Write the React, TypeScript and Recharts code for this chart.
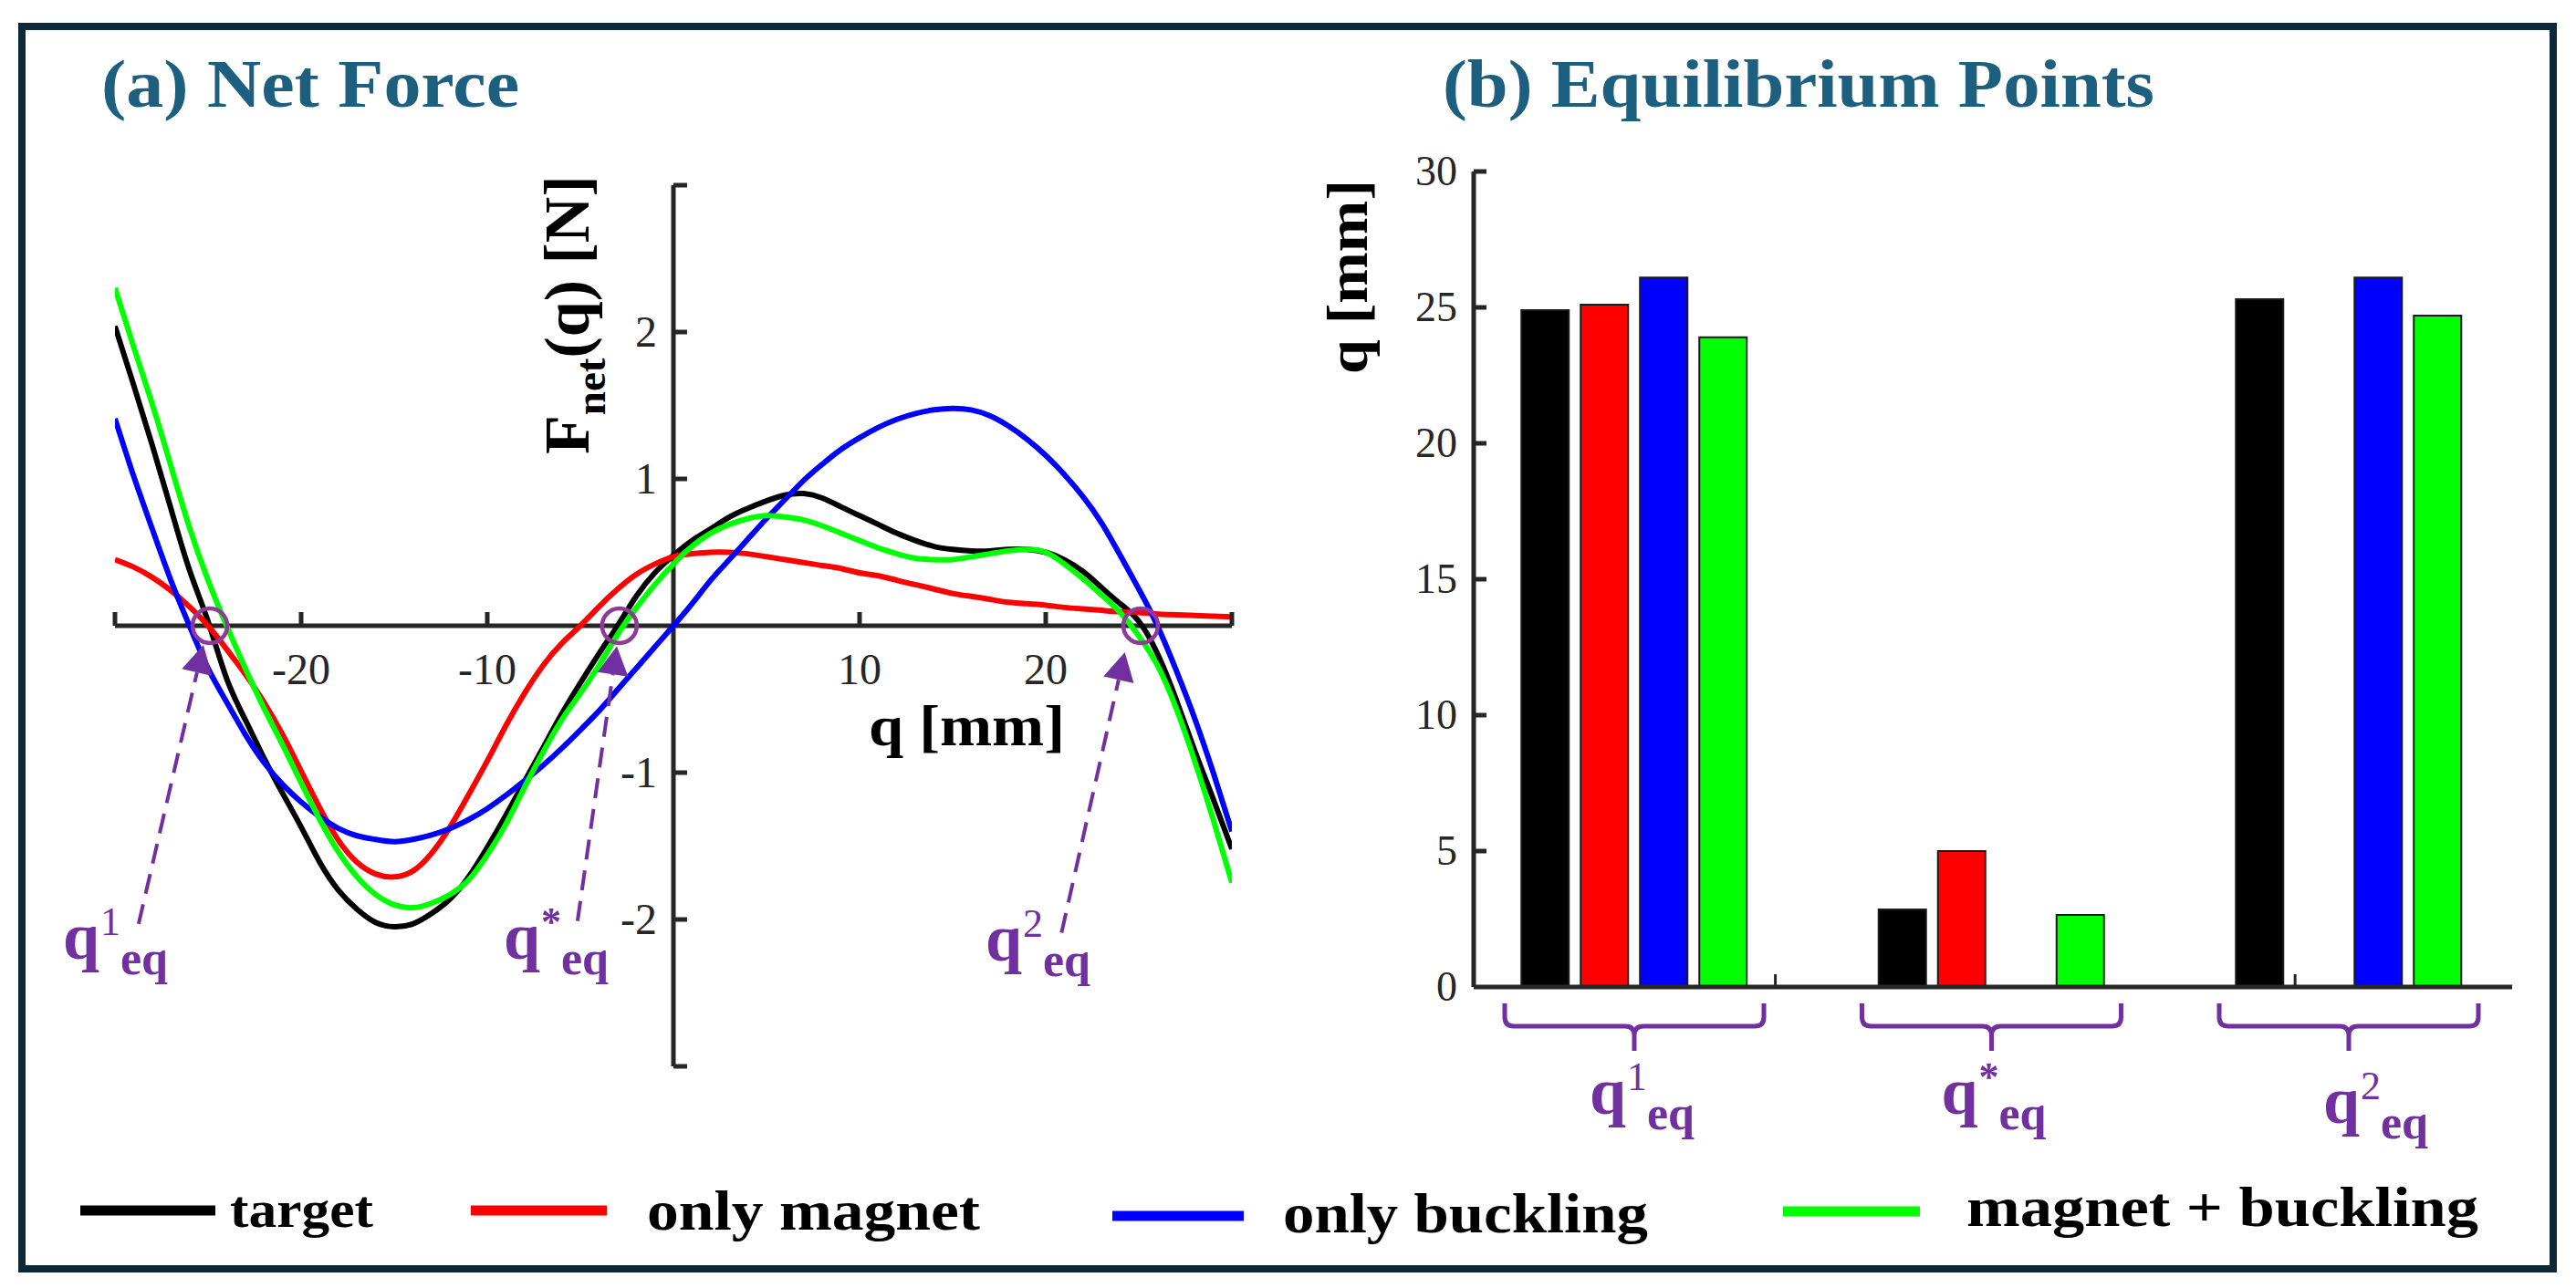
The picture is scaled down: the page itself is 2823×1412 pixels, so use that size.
import React from "react";
import {
  LineChart,
  Line,
  XAxis,
  YAxis,
  ReferenceLine,
  ReferenceDot,
  BarChart,
  Bar,
} from "recharts";

const FONT = "'Liberation Serif', 'Times New Roman', Times, serif";
const AXIS = "#262626";
const PURPLE = "#7030a0";
const CIRCLE = "#8f3a98";
const TITLE = "#1d5f7f";
const FRAME = "#0d2838";

// ---------------- (a) Net Force data ----------------
const qGrid = [
  -30, -29, -28, -27, -26, -25, -24, -23, -22, -21, -20, -19, -18, -17, -16, -15,
  -14, -13, -12, -11, -10, -9, -8, -7, -6, -5, -4, -3, -2, -1, 0, 1, 2, 3, 4, 5,
  6, 7, 8, 9, 10, 11, 12, 13, 14, 15, 16, 17, 18, 19, 20, 21, 22, 23, 24, 25, 26,
  27, 28, 29, 30,
];

const targetForce = [
  2.04, 1.64, 1.23, 0.8, 0.38, 0.03, -0.36, -0.64, -0.9, -1.14, -1.37, -1.61,
  -1.8, -1.93, -2.02, -2.05, -2.03, -1.96, -1.86, -1.71, -1.51, -1.29, -1.06,
  -0.83, -0.6, -0.39, -0.19, 0.0, 0.2, 0.36, 0.48, 0.58, 0.66, 0.74, 0.8, 0.85,
  0.89, 0.9, 0.87, 0.81, 0.75, 0.69, 0.63, 0.58, 0.54, 0.52, 0.51, 0.51, 0.52,
  0.52, 0.5, 0.45, 0.37, 0.26, 0.15, 0.03, -0.19, -0.5, -0.85, -1.18, -1.52,
];

const magnetForce = [
  0.45, 0.4, 0.33, 0.24, 0.13, 0.0, -0.16, -0.33, -0.52, -0.74, -0.99, -1.24,
  -1.46, -1.61, -1.69, -1.71, -1.67, -1.55, -1.37, -1.15, -0.92, -0.68, -0.46,
  -0.27, -0.12, 0.0, 0.13, 0.25, 0.35, 0.42, 0.47, 0.49, 0.5, 0.5, 0.49, 0.47,
  0.45, 0.43, 0.41, 0.39, 0.36, 0.34, 0.31, 0.28, 0.25, 0.22, 0.2, 0.18, 0.16,
  0.15, 0.14, 0.125, 0.115, 0.105, 0.095, 0.09, 0.08, 0.075, 0.07, 0.065, 0.06,
];

const bucklingForce = [
  1.41, 1.02, 0.66, 0.31, 0.0, -0.29, -0.52, -0.74, -0.93, -1.08, -1.2, -1.3,
  -1.38, -1.43, -1.455, -1.47, -1.455, -1.425, -1.38, -1.32, -1.245, -1.155,
  -1.055, -0.95, -0.835, -0.71, -0.58, -0.435, -0.29, -0.145, 0.0, 0.15, 0.31,
  0.45, 0.59, 0.73, 0.86, 0.99, 1.1, 1.2, 1.28, 1.35, 1.405, 1.445, 1.47, 1.48,
  1.47, 1.43, 1.36, 1.27, 1.16, 1.03, 0.88, 0.7, 0.48, 0.25, 0.0, -0.3, -0.63,
  -1.0, -1.4,
];

const bothForce = [
  2.3, 1.9, 1.51, 1.09, 0.67, 0.31, 0.0, -0.29, -0.56, -0.81, -1.07, -1.32,
  -1.54, -1.71, -1.83, -1.9, -1.92, -1.89, -1.83, -1.73, -1.56, -1.35, -1.1,
  -0.86, -0.64, -0.46, -0.27, -0.06, 0.12, 0.28, 0.42, 0.54, 0.63, 0.69, 0.73,
  0.75, 0.74, 0.72, 0.68, 0.63, 0.58, 0.53, 0.49, 0.46, 0.45, 0.45, 0.47, 0.49,
  0.51, 0.52, 0.5, 0.42, 0.32, 0.21, 0.09, -0.07, -0.27, -0.56, -0.92, -1.32,
  -1.75,
];

const seriesKeys = ["target", "magnet", "buckling", "both"];
const seriesNames = ["target", "only magnet", "only buckling", "magnet + buckling"];
const seriesColors = ["#000000", "#ff0000", "#0000ff", "#00ff00"];

const forceRows = qGrid.map((q, i) => ({
  q,
  target: targetForce[i],
  magnet: magnetForce[i],
  buckling: bucklingForce[i],
  both: bothForce[i],
}));

const xTickValues = [-30, -20, -10, 10, 20, 30];
const xTickLabels = ["", "-20", "-10", "10", "20", ""];
const yTickValues = [3, 2, 1, -1, -2, -3];
const yTickLabels = ["", "2", "1", "-1", "-2", ""];

// annotations of panel (a), in data coordinates
const eqSuperscripts = ["1", "*", "2"];
const eqMarkerQ = [-24.9, -2.9, 25.1];
const arrowTailQ = [-28.73, -5.15, 20.85];
const arrowTailF = [-2.03, -2.01, -2.09];
const arrowTipQ = [-25.25, -3.04, 24.25];
const arrowTipF = [-0.13, -0.14, -0.18];
const eqLabelQ = [-32.8, -9.12, 16.76];
const eqLabelF = [-2.27, -2.27, -2.28];

// ---------------- (b) Equilibrium Points data ----------------
const eqGroups = ["q1eq", "q*eq", "q2eq"];
const eqTarget = [24.9, 2.85, 25.3];
const eqMagnet = [25.1, 5.0, 0];
const eqBuckling = [26.1, 0, 26.1];
const eqBoth = [23.9, 2.65, 24.7];
const barTickValues = [0, 5, 10, 15, 20, 25, 30];
// position axis of panel (b): group index 1..3, with the small x-axis ticks
const barPosDomain = [0.5504, 3.4572];
const barMinorTicks = [0.581, 1.582, 2.583, 2.918];

const eqRows = eqGroups.map((group, i) => ({
  group,
  target: eqTarget[i],
  magnet: eqMagnet[i],
  buckling: eqBuckling[i],
  both: eqBoth[i],
}));

// label placement under the braces (pixel offsets from group centre)
const braceLabelDx = [-49, -55, -28];
const braceLabelDy = [139, 139, 149];

// legend layout
const legendLayout = [
  { x1: 88, x2: 236, ly: 1327, tx: 252, ty: 1345, len: 157, fs: 58 },
  { x1: 516, x2: 665, ly: 1327, tx: 709, ty: 1348, len: 365, fs: 62 },
  { x1: 1219, x2: 1363, ly: 1333, tx: 1406, ty: 1351, len: 400, fs: 62 },
  { x1: 1954, x2: 2104, ly: 1328, tx: 2155, ty: 1344, len: 561, fs: 62 },
];

function QLabel({ x, y, sup }: { x: number; y: number; sup: string }) {
  return (
    <text fill={PURPLE} fontFamily={FONT} fontWeight="bold">
      <tspan x={x} y={y} fontSize={72}>
        q
      </tspan>
      <tspan x={x + 41} y={y - 26} fontSize={44} fontWeight={sup === "*" ? "bold" : "normal"}>
        {sup}
      </tspan>
      <tspan x={x + 63} y={y + 17} fontSize={52}>
        eq
      </tspan>
    </text>
  );
}

function AxisLine(props: any) {
  const { x1, y1, x2, y2 } = props;
  return <line x1={x1} y1={y1} x2={x2} y2={y2} stroke={AXIS} strokeWidth={5} />;
}

function XTickMark(props: any) {
  const { cx, cy, label } = props;
  return (
    <g>
      <line x1={cx} y1={cy} x2={cx} y2={cy - 15} stroke={AXIS} strokeWidth={5} />
      {label ? (
        <text x={cx} y={cy + 64} textAnchor="middle" fontSize={48} fontFamily={FONT} fill={AXIS}>
          {label}
        </text>
      ) : null}
    </g>
  );
}

function YTickMark(props: any) {
  const { cx, cy, label } = props;
  return (
    <g>
      <line x1={cx} y1={cy} x2={cx + 15} y2={cy} stroke={AXIS} strokeWidth={5} />
      {label ? (
        <text x={cx - 18} y={cy + 16} textAnchor="end" fontSize={48} fontFamily={FONT} fill={AXIS}>
          {label}
        </text>
      ) : null}
    </g>
  );
}

function MinorTick(props: any) {
  const { cx, cy } = props;
  return <line x1={cx} y1={cy} x2={cx} y2={cy - 14} stroke={AXIS} strokeWidth={3} />;
}

function EqCircle(props: any) {
  const { cx, cy } = props;
  return <circle cx={cx} cy={cy} r={19} fill="none" stroke={CIRCLE} strokeWidth={4.5} />;
}

function Arrow(props: any) {
  const { x1, y1, x2, y2 } = props;
  const dx = x2 - x1;
  const dy = y2 - y1;
  const len = Math.hypot(dx, dy) || 1;
  const ux = dx / len;
  const uy = dy / len;
  const headLen = 31;
  const headW = 17;
  const bx = x2 - ux * headLen;
  const by = y2 - uy * headLen;
  const px = -uy;
  const py = ux;
  return (
    <g>
      <line x1={x1} y1={y1} x2={bx} y2={by} stroke={PURPLE} strokeWidth={4} strokeDasharray="22 12" />
      <polygon
        points={`${x2},${y2} ${bx + px * headW},${by + py * headW} ${bx - px * headW},${by - py * headW}`}
        fill={PURPLE}
      />
    </g>
  );
}

function BarYTick(props: any) {
  const { x, y, payload } = props;
  return (
    <g>
      {payload.value !== 0 ? (
        <line x1={x} y1={y} x2={x + 14} y2={y} stroke={AXIS} strokeWidth={5} />
      ) : null}
      <text x={x - 18} y={y + 15} textAnchor="end" fontSize={46} fontFamily={FONT} fill={AXIS}>
        {payload.value}
      </text>
    </g>
  );
}

function Brace(props: any) {
  const { cx, cy, sup, ldx, ldy } = props;
  const w = 142;
  const d = `M ${cx - w} ${cy + 18} L ${cx - w} ${cy + 33} Q ${cx - w} ${cy + 43} ${cx - w + 10} ${cy + 43} L ${cx - 10} ${cy + 43} Q ${cx} ${cy + 43} ${cx} ${cy + 53} L ${cx} ${cy + 70} M ${cx} ${cy + 53} Q ${cx} ${cy + 43} ${cx + 10} ${cy + 43} L ${cx + w - 10} ${cy + 43} Q ${cx + w} ${cy + 43} ${cx + w} ${cy + 33} L ${cx + w} ${cy + 18}`;
  return (
    <g>
      <path d={d} fill="none" stroke={PURPLE} strokeWidth={5} />
      <QLabel x={cx + ldx} y={cy + ldy} sup={sup} />
    </g>
  );
}

function NetForceChart() {
  return (
    <LineChart
      width={1450}
      height={1412}
      data={forceRows}
      margin={{ top: 203, right: 100, bottom: 243, left: 126 }}
    >
      <XAxis type="number" dataKey="q" domain={[-30, 30]} hide allowDataOverflow />
      <YAxis type="number" domain={[-3, 3]} hide allowDataOverflow />
      <ReferenceLine y={0} stroke={AXIS} strokeWidth={5} shape={(p: any) => <AxisLine {...p} />} />
      <ReferenceLine x={0} stroke={AXIS} strokeWidth={5} shape={(p: any) => <AxisLine {...p} />} />
      {xTickValues.map((v, i) => (
        <ReferenceDot
          key={"xt" + i}
          x={v}
          y={0}
          r={0}
          ifOverflow="visible"
          shape={(p: any) => <XTickMark {...p} label={xTickLabels[i]} />}
        />
      ))}
      {yTickValues.map((v, i) => (
        <ReferenceDot
          key={"yt" + i}
          x={0}
          y={v}
          r={0}
          ifOverflow="visible"
          shape={(p: any) => <YTickMark {...p} label={yTickLabels[i]} />}
        />
      ))}
      <ReferenceDot
        x={10.49}
        y={-0.814}
        r={0}
        ifOverflow="visible"
        shape={(p: any) => (
          <text
            x={p.cx}
            y={p.cy}
            fontSize={63}
            fontWeight="bold"
            fontFamily={FONT}
            fill="#000"
            textLength={215}
            lengthAdjust="spacingAndGlyphs"
          >
            q [mm]
          </text>
        )}
      />
      <ReferenceDot
        x={-4.56}
        y={1.168}
        r={0}
        ifOverflow="visible"
        shape={(p: any) => (
          <text
            x={p.cx}
            y={p.cy}
            transform={`rotate(-90 ${p.cx} ${p.cy})`}
            fontSize={70}
            fontWeight="bold"
            fontFamily={FONT}
            fill="#000"
          >
            F
            <tspan fontSize={47} dy={18}>
              net
            </tspan>
            <tspan dy={-18}>(q) [N]</tspan>
          </text>
        )}
      />
      {seriesKeys.map((k, i) => (
        <Line
          key={k}
          type="natural"
          dataKey={k}
          name={seriesNames[i]}
          stroke={seriesColors[i]}
          strokeWidth={6}
          dot={false}
          activeDot={false}
          isAnimationActive={false}
        />
      ))}
      {eqMarkerQ.map((q, i) => (
        <ReferenceDot
          key={"c" + i}
          x={q}
          y={0}
          r={19}
          ifOverflow="visible"
          shape={(p: any) => <EqCircle {...p} />}
        />
      ))}
      {arrowTipQ.map((q, i) => (
        <ReferenceLine
          key={"a" + i}
          segment={[
            { x: arrowTailQ[i], y: arrowTailF[i] },
            { x: q, y: arrowTipF[i] },
          ]}
          ifOverflow="visible"
          shape={(p: any) => <Arrow {...p} />}
        />
      ))}
      {eqLabelQ.map((q, i) => (
        <ReferenceDot
          key={"l" + i}
          x={q}
          y={eqLabelF[i]}
          r={0}
          ifOverflow="visible"
          shape={(p: any) => <QLabel x={p.cx} y={p.cy} sup={eqSuperscripts[i]} />}
        />
      ))}
    </LineChart>
  );
}

function EquilibriumChart() {
  return (
    <BarChart
      width={1373}
      height={1412}
      data={eqRows}
      margin={{ top: 188, right: 70, bottom: 300, left: 65 }}
      barSize={52}
      barGap={13}
    >
      <XAxis
        dataKey="group"
        type="category"
        padding={{ left: -19.75, right: -16.75 }}
        tick={false}
        tickLine={false}
        axisLine={{ stroke: AXIS, strokeWidth: 5 }}
        height={30}
      />
      <XAxis xAxisId="pos" type="number" domain={barPosDomain} hide allowDataOverflow />
      <YAxis
        type="number"
        domain={[0, 30]}
        ticks={barTickValues}
        interval={0}
        width={100}
        tickSize={0}
        tickMargin={0}
        tickLine={false}
        axisLine={{ stroke: AXIS, strokeWidth: 5 }}
        tick={<BarYTick />}
      />
      {seriesKeys.map((k, i) => (
        <Bar
          key={k}
          dataKey={k}
          name={seriesNames[i]}
          fill={seriesColors[i]}
          stroke="#1a1a1a"
          strokeWidth={2}
          isAnimationActive={false}
        />
      ))}
      {barMinorTicks.map((v, i) => (
        <ReferenceDot
          key={"mt" + i}
          xAxisId="pos"
          x={v}
          y={0}
          r={0}
          ifOverflow="visible"
          shape={(p: any) => <MinorTick {...p} />}
        />
      ))}
      {eqGroups.map((g, i) => (
        <ReferenceDot
          key={"b" + i}
          x={g}
          y={0}
          r={0}
          ifOverflow="visible"
          shape={(p: any) => (
            <Brace {...p} sup={eqSuperscripts[i]} ldx={braceLabelDx[i]} ldy={braceLabelDy[i]} />
          )}
        />
      ))}
    </BarChart>
  );
}

export default function App() {
  return (
    <div
      style={{
        position: "absolute",
        left: 0,
        top: 0,
        width: 2823,
        height: 1412,
        background: "#ffffff",
        overflow: "hidden",
      }}
    >
      <div style={{ position: "absolute", left: 0, top: 0, width: 1450, height: 1412 }}>
        <NetForceChart />
      </div>
      <div style={{ position: "absolute", left: 1450, top: 0, width: 1373, height: 1412 }}>
        <EquilibriumChart />
      </div>
      <svg
        width={2823}
        height={1412}
        style={{ position: "absolute", left: 0, top: 0, pointerEvents: "none" }}
      >
        <rect x={24} y={29} width={2774} height={1362} fill="none" stroke={FRAME} strokeWidth={8} />
        <text
          x={111}
          y={117}
          fontSize={75}
          fontWeight="bold"
          fontFamily={FONT}
          fill={TITLE}
          textLength={458}
          lengthAdjust="spacingAndGlyphs"
        >
          (a) Net Force
        </text>
        <text
          x={1581}
          y={117}
          fontSize={75}
          fontWeight="bold"
          fontFamily={FONT}
          fill={TITLE}
          textLength={780}
          lengthAdjust="spacingAndGlyphs"
        >
          (b) Equilibrium Points
        </text>
        <text
          x={1498}
          y={410}
          transform="rotate(-90 1498 410)"
          fontSize={63}
          fontWeight="bold"
          fontFamily={FONT}
          fill="#000"
          textLength={213}
          lengthAdjust="spacingAndGlyphs"
        >
          q [mm]
        </text>
        {legendLayout.map((l, i) => (
          <g key={"lg" + i}>
            <line x1={l.x1} y1={l.ly} x2={l.x2} y2={l.ly} stroke={seriesColors[i]} strokeWidth={11} />
            <text
              x={l.tx}
              y={l.ty}
              fontSize={l.fs}
              fontWeight="bold"
              fontFamily={FONT}
              fill="#000"
              textLength={l.len}
              lengthAdjust="spacingAndGlyphs"
            >
              {seriesNames[i]}
            </text>
          </g>
        ))}
      </svg>
    </div>
  );
}
